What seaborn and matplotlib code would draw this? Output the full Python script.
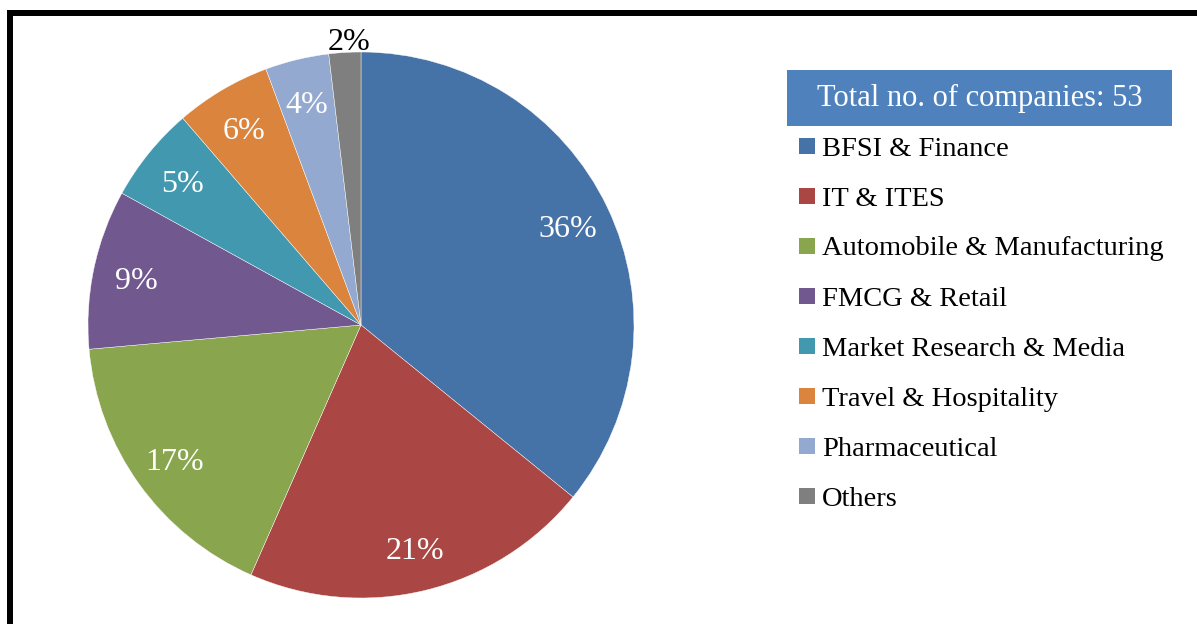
import matplotlib
matplotlib.use("Agg")
import matplotlib.pyplot as plt
from matplotlib.patches import Rectangle
import numpy as np
import seaborn as sns

categories = ["BFSI & Finance", "IT & ITES", "Automobile & Manufacturing",
              "FMCG & Retail", "Market Research & Media", "Travel & Hospitality",
              "Pharmaceutical", "Others"]
companies = [19, 11, 9, 5, 3, 3, 2, 1]   # 53 in total
pct_labels = ["36%", "21%", "17%", "9%", "5%", "6%", "4%", "2%"]
slice_colors = ["#4572A7", "#AA4643", "#89A54E", "#71588F",
                "#4198AF", "#DB843D", "#93A9CF", "#7F7F7F"]
legend_title = "Total no. of companies: 53"

sns.set_theme(style="white")
plt.rcParams['font.family'] = ['Liberation Serif', 'DejaVu Serif']

W, H = 1197, 624
fig = plt.figure(figsize=(W / 100, H / 100), dpi=100)


def px(x, y, w, h):
    # pixel box (top-left origin) -> figure fraction
    return [x / W, 1 - (y + h) / H, w / W, h / H]


# pie
cx, cy, r = 361, 325, 273
ax = fig.add_axes(px(cx - r, cy - r, 2 * r, 2 * r))
palette = sns.color_palette(slice_colors)
wedges, texts = ax.pie(
    companies, colors=palette, startangle=90, counterclock=False,
    wedgeprops=dict(edgecolor='white', linewidth=0.3))
ax.set_xlim(-1, 1)
ax.set_ylim(-1, 1)
ax.set_axis_off()

# percentage labels inside the slices, smallest one outside in black
for i, (w, lab) in enumerate(zip(wedges, pct_labels)):
    mid = np.deg2rad((w.theta1 + w.theta2) / 2)
    dist, col = 0.84, 'white'
    if i == len(wedges) - 1:
        dist, col = 1.05, 'black'
    ax.text(dist * np.cos(mid) + (0.02 if col == 'black' else 0),
            dist * np.sin(mid), lab, color=col, fontsize=23,
            ha='center', va='center_baseline')

# legend title box
fig.patches.append(Rectangle(px(787, 70, 385, 56)[:2], 385 / W, 56 / H,
                             transform=fig.transFigure, facecolor='#4F81BD',
                             edgecolor='none'))
fig.text((787 + 385 / 2) / W, 1 - 98 / H, legend_title, color='white',
         fontsize=22, ha='center', va='center')

# legend entries
for i, (name, col) in enumerate(zip(categories, palette)):
    y = 146 + 50 * i
    fig.patches.append(Rectangle(px(799, y - 8, 16, 16)[:2], 16 / W, 16 / H,
                                 transform=fig.transFigure, facecolor=col,
                                 edgecolor='none'))
    fig.text(822 / W, 1 - y / H, name, fontsize=20.5, ha='left',
             va='center_baseline', color='black')

# outer frame (top and left edges visible)
fig.patches.append(Rectangle(px(7, 10, 1190, 6)[:2], 1190 / W, 6 / H,
                             transform=fig.transFigure, facecolor='black',
                             edgecolor='none'))
fig.patches.append(Rectangle(px(7, 10, 6, 614)[:2], 6 / W, 614 / H,
                             transform=fig.transFigure, facecolor='black',
                             edgecolor='none'))

fig.savefig("out.png", dpi=100)
